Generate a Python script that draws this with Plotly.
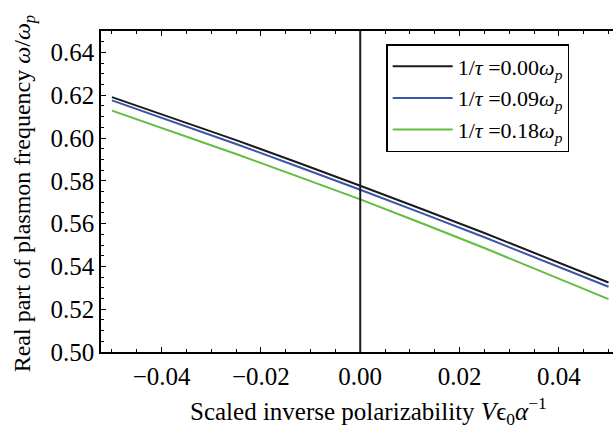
import plotly.graph_objects as go

x_vals = [-0.05, -0.025, 0.0, 0.025, 0.05]
y_tau000 = [0.6191, 0.5990, 0.5777, 0.5556, 0.5325]
y_tau009 = [0.6176, 0.5972, 0.5758, 0.5536, 0.5305]
y_tau018 = [0.6128, 0.5925, 0.5713, 0.5486, 0.5247]
series_names = [
    "1/<i>τ</i> =0.00<i>ω</i><sub><i>p</i></sub>",
    "1/<i>τ</i> =0.09<i>ω</i><sub><i>p</i></sub>",
    "1/<i>τ</i> =0.18<i>ω</i><sub><i>p</i></sub>",
]
series_colors = ["#1a1a1a", "#3a54a8", "#62bd3e"]
y_ticks = [0.50, 0.52, 0.54, 0.56, 0.58, 0.60, 0.62, 0.64]
x_ticks = [-0.04, -0.02, 0.0, 0.02, 0.04]

FONT = "Liberation Serif"

fig = go.Figure()
for i, (ys, name, col) in enumerate(zip([y_tau000, y_tau009, y_tau018], series_names, series_colors)):
    fig.add_trace(go.Scatter(
        x=x_vals, y=ys, mode="lines", name=name,
        line=dict(color=col, width=2, shape="spline", smoothing=0.6),
        legendgroup=f"g{i}",
    ))

# vertical line at x = 0
fig.add_shape(type="line", xref="x", yref="paper", x0=0, x1=0, y0=0, y1=1,
              line=dict(color="#1a1a1a", width=2))

fig.update_layout(
    width=613, height=429,
    margin=dict(l=101, r=0, t=31, b=77),
    paper_bgcolor="white", plot_bgcolor="white",
    font=dict(family=FONT, size=25, color="black"),
    showlegend=True,
    legend=dict(
        x=0.557, y=0.9595, xanchor="left", yanchor="top",
        bordercolor="black", borderwidth=1.5, bgcolor="white",
        font=dict(family=FONT, size=22, color="black"),
        itemwidth=60, tracegroupgap=0,
    ),
    xaxis=dict(
        range=[-0.0522, 0.0509], tickvals=x_ticks, tickformat=".2f",
        ticks="inside", ticklen=5, tickwidth=1.2, tickcolor="black",
        showline=True, linecolor="black", linewidth=1.5, mirror="ticks",
        showgrid=False, zeroline=False,
        minor=dict(dtick=0.005, ticks="inside", ticklen=3, tickcolor="black", showgrid=False),
        tickfont=dict(family=FONT, size=25, color="black"),
        ticklabelstandoff=1,
    ),
    yaxis=dict(
        range=[0.50, 0.65], tickvals=y_ticks, tickformat=".2f",
        ticks="inside", ticklen=5, tickwidth=1.2, tickcolor="black",
        showline=True, linecolor="black", linewidth=1.5, mirror=False,
        showgrid=False, zeroline=False,
        minor=dict(dtick=0.005, ticks="inside", ticklen=3, tickcolor="black", showgrid=False),
        tickfont=dict(family=FONT, size=25, color="black"),
    ),
    annotations=[
        dict(text="Scaled inverse polarizability <i>V</i>ϵ<sub>0</sub><i>α</i><sup>−1</sup>",
             xref="paper", yref="paper", x=0.522, y=-0.185, xanchor="center", yanchor="middle",
             showarrow=False, font=dict(family=FONT, size=25, color="black")),
        dict(text="Real part of plasmon frequency <i>ω</i>/<i>ω</i><sub><i>p</i></sub>",
             xref="paper", yref="paper", x=-0.150, y=0.495, xanchor="center", yanchor="middle",
             textangle=-90, showarrow=False, font=dict(family=FONT, size=24, color="black")),
    ],
)

fig.write_html("out.html", config={"displayModeBar": False})

# remove default browser body margin so the figure sits at the page's top-left
with open("out.html", "r", encoding="utf-8") as f:
    html = f.read()
html = html.replace("<head>", "<head><style>html,body{margin:0;padding:0;overflow:hidden;}</style>", 1)
with open("out.html", "w", encoding="utf-8") as f:
    f.write(html)
